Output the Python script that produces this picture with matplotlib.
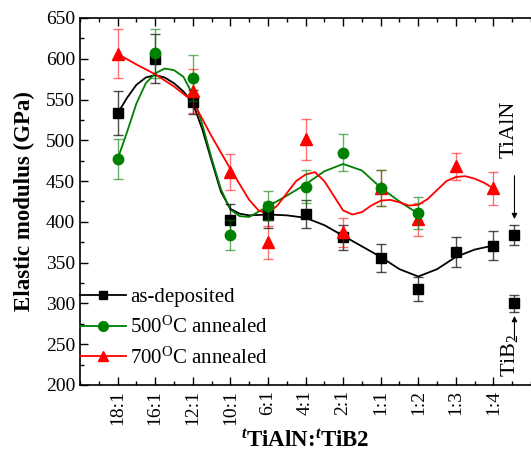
import matplotlib
matplotlib.use('Agg')
import matplotlib.pyplot as plt
from matplotlib.lines import Line2D
from matplotlib.ticker import MultipleLocator

plt.rcParams['font.family'] = 'Liberation Serif'
plt.rcParams['mathtext.fontset'] = 'custom'
plt.rcParams['mathtext.rm'] = 'Liberation Serif'
plt.rcParams['mathtext.it'] = 'Liberation Serif:italic:bold'
plt.rcParams['mathtext.bf'] = 'Liberation Serif:bold'

ratios = ['18:1', '16:1', '12:1', '10:1', '6:1', '4:1', '2:1', '1:1', '1:2', '1:3', '1:4']

# as-deposited (GPa)
dep_val = [533, 600, 547, 402, 408, 410, 381, 356, 318, 363, 371]
dep_err = [27, 30, 15, 20, 16, 17, 15, 17, 15, 18, 18]

# 500 C annealed
a500_x = [0, 1, 2, 3, 4, 5, 6, 7, 8]
a500_val = [477, 607, 576, 384, 420, 443, 485, 441, 411]
a500_err = [24, 30, 28, 18, 18, 20, 23, 22, 20]

# 700 C annealed (no point at 16:1)
a700_x = [0, 2, 3, 4, 5, 6, 7, 8, 9, 10]
a700_val = [606, 560, 461, 375, 501, 387, 441, 403, 468, 441]
a700_err = [30, 27, 22, 20, 25, 18, 22, 20, 17, 20]

# reference films
ref_x = 10.56
tialn_val, tialn_err = 384, 12
tib2_val, tib2_err = 300, 10

# smoothed curves
dep_cx = [0, 0.25, 0.5, 0.75, 1, 1.25, 1.5, 1.75, 2, 2.25, 2.5, 2.75, 3, 3.25, 3.5,
          4, 4.5, 5, 5.5, 6, 6.5, 7, 7.5, 8, 8.5, 9, 9.5, 10]
dep_cy = [533, 552, 568, 577, 580, 577, 570, 560, 546, 514, 475, 437, 416, 410, 408,
          409, 408, 405, 396, 383, 370, 357, 342, 333, 342, 357, 366, 371]

a500_cx = [0, 0.25, 0.5, 0.75, 1, 1.25, 1.5, 1.75, 2, 2.25, 2.5, 2.75, 3, 3.25, 3.5,
           4, 4.5, 5, 5.5, 6, 6.5, 7, 7.5, 8]
a500_cy = [477, 510, 545, 570, 582, 588, 586, 578, 556, 520, 478, 440, 415, 407, 406,
           419, 432, 446, 462, 471, 463, 442, 425, 410]

a700_cx = [0, 0.5, 1, 1.5, 2, 2.5, 3, 3.5, 3.75, 4, 4.25, 4.5, 4.75, 5, 5.25, 5.5,
           5.75, 6, 6.25, 6.5, 6.75, 7, 7.25, 7.5, 7.75, 8, 8.25, 8.5, 8.75, 9,
           9.25, 9.5, 9.75, 10]
a700_cy = [606, 593, 581, 566, 548, 505, 465, 427, 414, 410, 420, 435, 450, 458, 461,
           450, 432, 414, 409, 412, 420, 426, 427, 424, 420, 421, 428, 439, 450, 455,
           456, 453, 448, 441]

fig = plt.figure(figsize=(5.31, 4.61), dpi=100)
ax = fig.add_axes([0.1507, 0.1649, 0.8493, 0.7961])

lk = dict(lw=1.3, zorder=2, solid_joinstyle='round')
ax.plot(dep_cx, dep_cy, color='black', **lk)
ax.plot(a500_cx, a500_cy, color='green', **lk)
ax.plot(a700_cx, a700_cy, color='red', **lk)

ek = dict(capsize=3.5, elinewidth=1.0, capthick=1.0, linestyle='none')
ax.errorbar(range(len(dep_val)), dep_val, yerr=dep_err, fmt='s', color='black',
            ms=6.5, ecolor=(0, 0, 0, 0.7), zorder=3, **ek)
ax.errorbar([ref_x, ref_x], [tialn_val, tib2_val], yerr=[tialn_err, tib2_err], fmt='s',
            color='black', ms=6.5, ecolor=(0, 0, 0, 0.7), zorder=3, **ek)
ax.errorbar(a700_x, a700_val, yerr=a700_err, fmt='^', color='red', ms=8,
            ecolor=(1, 0, 0, 0.55), zorder=4, **ek)
ax.errorbar(a500_x, a500_val, yerr=a500_err, fmt='o', color='green', ms=7.5,
            ecolor=(0, 0.5, 0, 0.6), zorder=5, **ek)

ax.set_xlim(-1, 11)
ax.set_ylim(200, 650)
ax.set_xticks(range(len(ratios)))
ax.set_xticklabels(ratios, rotation=90, fontsize=14)
ax.xaxis.set_minor_locator(MultipleLocator(0.5))
ax.yaxis.set_major_locator(MultipleLocator(50))
ax.yaxis.set_minor_locator(MultipleLocator(25))
ax.tick_params(axis='y', labelsize=14)
ax.tick_params(which='major', direction='in', length=6, width=1, top=True)
ax.tick_params(which='minor', direction='in', length=3, width=1, top=True)
ax.spines['right'].set_visible(False)
for s in ['left', 'top', 'bottom']:
    ax.spines[s].set_linewidth(1.2)

ax.set_ylabel('Elastic modulus (GPa)', fontsize=16.5, fontweight='bold', labelpad=8)
ax.set_xlabel('$^t$TiAlN:$^t$TiB2', fontsize=16.5, fontweight='bold', labelpad=4)

ax.text(10.42, 513, 'TiAlN', rotation=90, fontsize=16, ha='center', va='center')
ax.text(10.42, 236, 'TiB$_2$', rotation=90, fontsize=16, ha='center', va='center')
ap = dict(arrowstyle='-|>', color='black', lw=0.8, mutation_scale=8)
ax.annotate('', xy=(ref_x, 400), xytext=(ref_x, 460), arrowprops=ap)
ax.annotate('', xy=(ref_x, 288), xytext=(ref_x, 252), arrowprops=ap)

handles = [
    Line2D([], [], color='black', marker='s', ms=6, lw=1.3),
    Line2D([], [], color='green', marker='o', ms=7, lw=1.3),
    Line2D([], [], color='red', marker='^', ms=7.5, lw=1.3),
]
labels = ['as-deposited', '500$^{\\mathrm{O}}$C annealed', '700$^{\\mathrm{O}}$C annealed']
ax.legend(handles, labels, loc='upper left', bbox_to_anchor=(0.0, 0.265), frameon=False,
          fontsize=15, handlelength=2.2, handletextpad=0.2, labelspacing=0.45,
          borderaxespad=0, borderpad=0)

fig.savefig('out.png', dpi=100)
